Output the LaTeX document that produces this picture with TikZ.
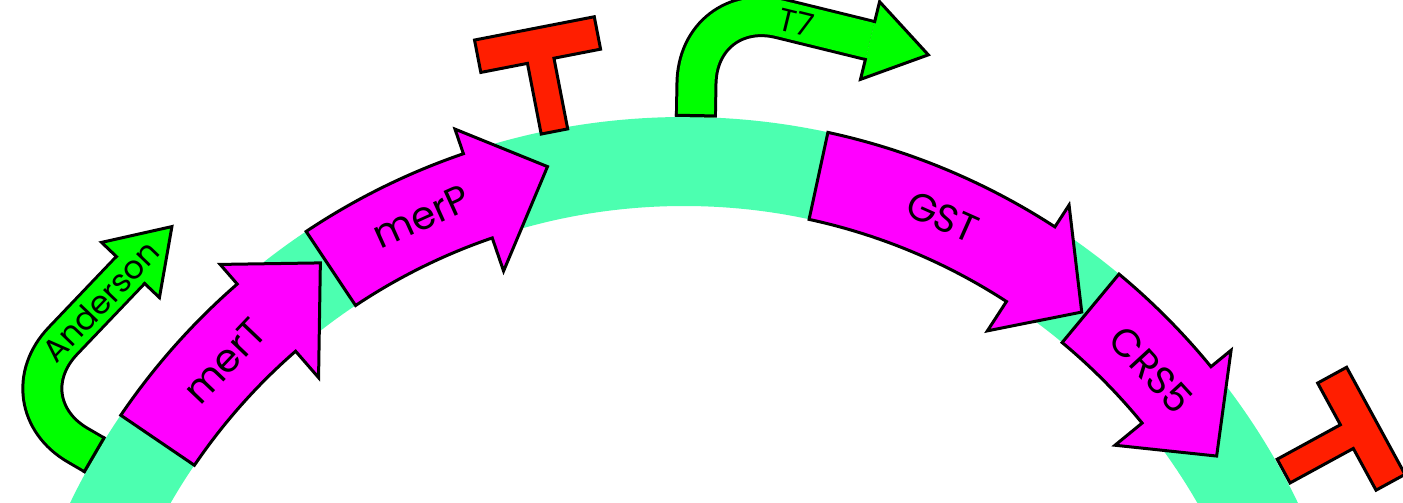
\documentclass[tikz,border=0pt]{standalone}
\usepackage{fontspec}
\setmainfont{Poppins}
\usetikzlibrary{calc}
\definecolor{bandc}{HTML}{4CFFB0}
\definecolor{genec}{HTML}{FF00FF}
\definecolor{promc}{HTML}{00FF00}
\definecolor{termc}{HTML}{FF1E00}
% gene arrow: #1 tail angle, #2 head base angle, #3 tip angle, #4 tip radius
\newcommand\genearrow[4]{%
  \draw[genebox] (#1:681) arc[start angle=#1, end angle=#2, radius=681]
    -- (#2:707) -- (#3:#4) -- (#2:557) -- (#2:592)
    arc[start angle=#2, end angle=#1, radius=592] -- cycle;}
% terminator: #1 angle, #2 start radius
\newcommand\terminator[2]{%
  \begin{scope}[shift={(#1:#2)}, rotate=#1-90]
    \draw[termbox] (-13.5,0) -- (-13.5,72) -- (-61,72) -- (-61,105) -- (61,105)
      -- (61,72) -- (13.5,72) -- (13.5,0) -- cycle;
  \end{scope}}
% promoter: #1 name, #2 stem angle, #3 head angle, #4 radius, #5 label, #6 label offset
\newcommand\promoter[6]{%
  \draw[promstroke] (#2:681) -- ({#2}:{#4/cos(#2-#3)}) -- (#3:#4);
  \draw[line width=3pt] (#2:682.5) ++(#2+90:21) -- ++(#2-90:42);
  \begin{scope}[shift={(#3:#4)}, rotate=#3-90]
    \fill[promc] (0,40) -- (60,0) -- (0,-40) -- cycle;
    \draw[line width=3pt, line join=miter] (0,18) -- (0,40) -- (60,0) -- (0,-40) -- (0,-18);
    \node[plbl, rotate=#3-90] (#1) at (#6,0) {#5};
  \end{scope}}
\begin{document}
\begin{tikzpicture}[x=1pt,y=1pt,
  genebox/.style={draw=black, line width=3pt, fill=genec, line join=miter},
  promstroke/.style={line width=3pt, double=promc, double distance=36pt, rounded corners=85pt},
  termbox/.style={draw=black, line width=3pt, fill=termc, line join=miter},
  glbl/.style={inner sep=0pt, font=\fontsize{39}{39}\selectfont},
  plbl/.style={inner sep=0pt, font=\fontsize{32}{32}\selectfont}]
\useasboundingbox (0,0) rectangle (1403,-503);
\clip (0,0) rectangle (1403,-503);
\begin{scope}[shift={(684,-798)}]
  % backbone
  \draw[bandc, line width=89pt] (0,0) circle[radius=636.5];
  % genes
  \genearrow{145.8}{131}{124.2}{647}
  \genearrow{123.7}{108.9}{102.2}{646}
  \genearrow{77.8}{57}{50.7}{628}
  \genearrow{50.3}{39.3}{32.7}{633}
  \node[glbl, rotate=46.4] (merT) at (136.4:634) {merT};
  \node[glbl, rotate=24.3] (merP) at (114.3:638) {merP};
  \node[glbl, rotate=-24] (GST) at (66:636) {GST};
  \node[glbl, rotate=-47.5] (CRS5) at (42.5:634) {CRS5};
  % promoters
  \promoter{Anderson}{149.8}{136.35}{765}{Anderson}{-43}
  \promoter{T7}{89}{76.2}{780}{T7}{-76}
  % terminators
  \terminator{101}{679}
  \terminator{28.6}{683}
\end{scope}
\end{tikzpicture}
\end{document}
